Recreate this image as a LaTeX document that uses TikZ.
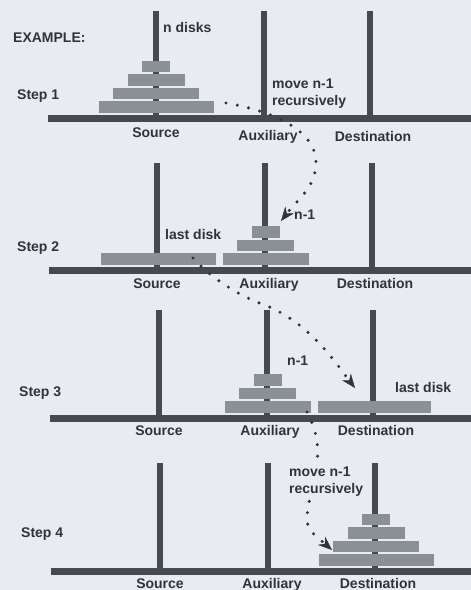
\documentclass[tikz,border=0pt]{standalone}
\usepackage{fontspec}
\setmainfont{Liberation Sans}
\usetikzlibrary{arrows.meta}

\definecolor{bgcol}{HTML}{E8ECF0}
\definecolor{pegcol}{HTML}{464A4E}
\definecolor{diskcol}{HTML}{8A9094}
\definecolor{txtcol}{HTML}{30343A}

\tikzset{
  peg/.style={draw=pegcol, line width=6pt},
  basebar/.style={fill=pegcol},
  disk/.style={fill=diskcol, inner sep=0pt, minimum height=11.5pt},
  lbl/.style={font=\bfseries\fontsize{14}{17}\selectfont, text=txtcol, inner sep=0pt},
  hop/.style={draw=txtcol, line width=3.4pt, line cap=round, dash pattern=on 0pt off 11.5pt,
    -{Stealth[length=14pt, width=11pt, line width=0.4pt]}}
}

\begin{document}
\begin{tikzpicture}[x=1pt, y=-1pt]
  % Background and page size
  \fill[bgcol] (0,0) rectangle (471,590);
  \useasboundingbox (0,0) rectangle (471,590);

  \node[lbl, anchor=base west] (example) at (13,42.7) {EXAMPLE:};

  % Draw step 1: all disks on the source
  \begin{scope}[shift={(0,115)}]
    \foreach \x in {156,264,370} \draw[peg] (\x,0) -- (\x,-104);
    \fill[basebar] (48,0) rectangle (471,7);
    \foreach \w [count=\k from 0] in {115,86,57,28}
      \node[disk, minimum width=\w pt] (s1d\k) at (156,{-8.25-13.5*\k}) {};
    \node[lbl, anchor=base west] (step1) at (17,-16) {Step 1};
    \node[lbl, anchor=base] (s1src) at (156,22) {Source};
    \node[lbl, anchor=base] (s1aux) at (268,25) {Auxiliary};
    \node[lbl, anchor=base] (s1dst) at (373,26) {Destination};
  \end{scope}
  \node[lbl, anchor=base west] (ndisks) at (163,32) {n disks};
  \node[lbl, anchor=north west, align=left] (move1) at (272,79) {move n-1\\recursively};

  % Draw step 2: n-1 disks on the auxiliary
  \begin{scope}[shift={(1,267)}]
    \foreach \x in {156,264,371} \draw[peg] (\x,0) -- (\x,-104);
    \fill[basebar] (48,0) rectangle (471,7);
    \node[disk, minimum width=115pt] (s2last) at (157,-8.25) {};
    \foreach \w [count=\k from 0] in {86,57,28}
      \node[disk, minimum width=\w pt] (s2d\k) at (264.5,{-8.25-13.5*\k}) {};
    \node[lbl, anchor=base west] (step2) at (16,-15.3) {Step 2};
    \node[lbl, anchor=base] (s2src) at (156,21) {Source};
    \node[lbl, anchor=base] (s2aux) at (268,21) {Auxiliary};
    \node[lbl, anchor=base] (s2dst) at (374,21) {Destination};
  \end{scope}
  \node[lbl, anchor=base west] (n1a) at (294,219.3) {n-1};
  \node[lbl, anchor=base west] (last1) at (165,239) {last disk};

  % Draw step 3: last disk on the destination
  \begin{scope}[shift={(3,415)}]
    \foreach \x in {156,264,370} \draw[peg] (\x,0) -- (\x,-105);
    \fill[basebar] (47,0) rectangle (471,7);
    \foreach \w [count=\k from 0] in {86,57,28}
      \node[disk, minimum width=\w pt] (s3d\k) at (264.5,{-8.25-13.5*\k}) {};
    \node[disk, minimum width=113pt] (s3last) at (371.5,-8.25) {};
    \node[lbl, anchor=base west] (step3) at (16,-18.3) {Step 3};
    \node[lbl, anchor=base] (s3src) at (156,20) {Source};
    \node[lbl, anchor=base] (s3aux) at (267,20) {Auxiliary};
    \node[lbl, anchor=base] (s3dst) at (373,20) {Destination};
  \end{scope}
  \node[lbl, anchor=base west] (n1b) at (287,365.7) {n-1};
  \node[lbl, anchor=base west] (last2) at (395,392.7) {last disk};

  % Draw step 4: all disks on the destination
  \begin{scope}[shift={(4,568)}]
    \foreach \x in {156,264,371} \draw[peg] (\x,0) -- (\x,-105);
    \fill[basebar] (47,0) rectangle (471,7);
    \foreach \w [count=\k from 0] in {115,86,57,28}
      \node[disk, minimum width=\w pt] (s4d\k) at (372,{-8.25-13.5*\k}) {};
    \node[lbl, anchor=base west] (step4) at (17,-31) {Step 4};
    \node[lbl, anchor=base] (s4src) at (156,20) {Source};
    \node[lbl, anchor=base] (s4aux) at (268,20) {Auxiliary};
    \node[lbl, anchor=base] (s4dst) at (374,20) {Destination};
  \end{scope}

  % Dotted moves between the steps
  \coordinate (a1s) at (226,103);
  \coordinate (a1m) at (316,162);
  \coordinate (a1e) at (281,221);
  \coordinate (a2s) at (193,258);
  \coordinate (a2m) at (262,304);
  \coordinate (a2e) at (355,388);
  \coordinate (a3s) at (307,412);
  \coordinate (a3m) at (307,519);
  \coordinate (a3e) at (332,550);
  \draw[hop] (a1s) .. controls (276,111.5) and (316,132) .. (a1m)
    .. controls (316,187) and (299.5,197.2) .. (a1e);
  \draw[hop] (a2s) .. controls (209.5,276.8) and (238.5,295.5) .. (a2m)
    .. controls (309,321) and (336.7,364.3) .. (a2e);
  \draw[hop] (a3s) .. controls (331,456) and (307,490) .. (a3m)
    .. controls (307,531) and (317,536.8) .. (a3e);

  % Text laid over the last move
  \node[lbl, anchor=north west, align=left, fill=bgcol, inner sep=1pt] (move2) at (288,466) {move n-1\\recursively};
\end{tikzpicture}
\end{document}
